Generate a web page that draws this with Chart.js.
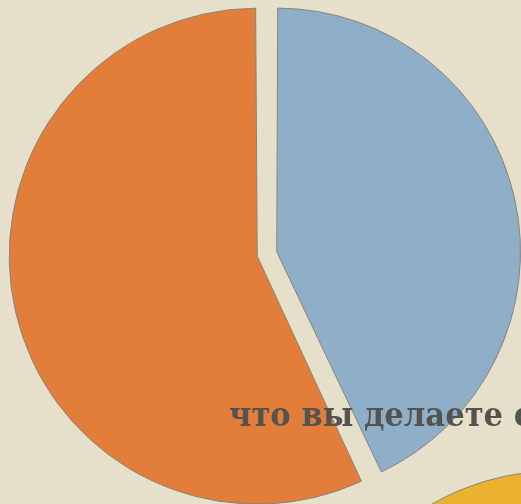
<!DOCTYPE html>
<html>
<head>
<meta charset="utf-8">
<script src="https://cdn.jsdelivr.net/npm/chart.js@4"></script>
<style>
    html, body { margin: 0; padding: 0; }
    body { width: 521px; height: 504px; overflow: hidden; position: relative; background: #e6e0ca; }
    #mainChart { position: absolute; left: 0; top: 0; }
    #nextBox { position: absolute; left: 295px; top: 456px; width: 520px; height: 520px; }
    .caption {
        position: absolute; left: 229px; top: 394px; white-space: nowrap;
        font-family: "DejaVu Serif Condensed", "DejaVu Serif", serif; font-weight: bold; font-size: 34px;
        color: #555350;
    }
</style>
</head>
<body>
<canvas id="mainChart" width="521" height="504"></canvas>
<div id="nextBox"><canvas id="nextChart" width="520" height="520"></canvas></div>
<div class="caption">что вы делаете с</div>
<script>
const categorias = ["Вариант 1", "Вариант 2"];
const valores = [43, 57];
const colores = ["#8faec8", "#e27d3a"];

const siguienteValores = [1];
const siguienteColores = ["#eab230"];

const config = {
    type: "pie",
    data: {
        labels: categorias,
        datasets: [{
            data: valores,
            backgroundColor: colores,
            borderColor: "#86847a",
            borderWidth: 1,
            offset: 40
        }]
    },
    options: {
        responsive: false,
        animation: false,
        radius: 238,
        layout: { padding: { left: 13, right: 0, top: 4, bottom: 0 } },
        plugins: { legend: { display: false }, tooltip: { enabled: false } }
    }
};

new Chart(document.getElementById("mainChart"), config);

// the next pie on the page, only its top edge shows in the corner
new Chart(document.getElementById("nextChart"), {
    type: "pie",
    data: {
        labels: ["—"],
        datasets: [{
            data: siguienteValores,
            backgroundColor: siguienteColores,
            borderColor: "#86847a",
            borderWidth: 1
        }]
    },
    options: {
        responsive: false,
        animation: false,
        radius: 245,
        plugins: { legend: { display: false }, tooltip: { enabled: false } }
    }
});
</script>
</body>
</html>
